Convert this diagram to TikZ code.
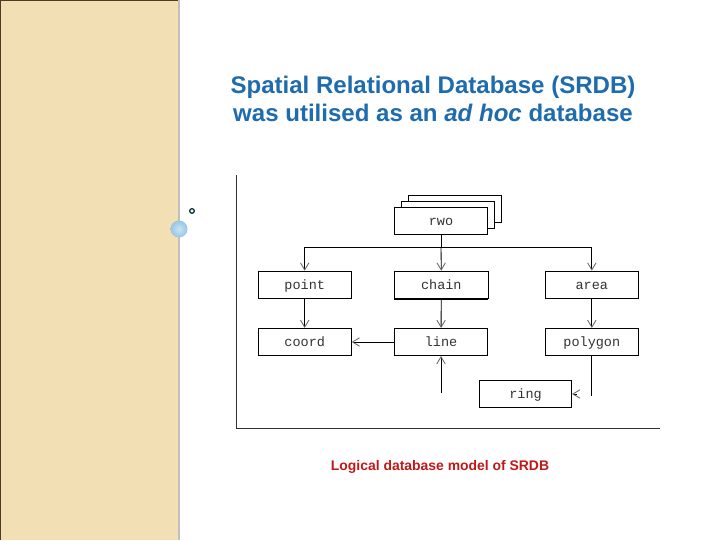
\documentclass[tikz,border=0pt]{standalone}
\usepackage{fontspec}
\setmainfont{Liberation Sans}
\newfontfamily\monofont{Liberation Mono}
\usetikzlibrary{arrows.meta}
\definecolor{panel}{HTML}{F2DFB3}
\definecolor{panelrim}{HTML}{4B3B28}
\definecolor{titleblue}{HTML}{1E6BAE}
\definecolor{capred}{HTML}{C01818}
\definecolor{bubble}{HTML}{C8E4F4}
\definecolor{bubbleedge}{HTML}{98C6E2}
\tikzset{
  entity/.style={draw, fill=white, line width=0.6pt, minimum width=2.33cm,
    minimum height=0.68cm, inner sep=0pt, text height=1.5ex, text depth=0.3ex,
    font=\monofont\fontsize{9.6}{10}\selectfont, text=black!80},
  arr/.style={line width=0.6pt, -{Straight Barb[length=5pt,width=6pt,color=black!60]}},
  link/.style={line width=0.6pt}
}
\begin{document}
\begin{tikzpicture}[x=0.025cm,y=-0.025cm]
 \useasboundingbox (0,0) rectangle (720,540);
 % side panel
 \fill[panel] (0,0) rectangle (178,540);
 \draw[panelrim,line width=0.8pt] (0.4,540) -- (0.4,0.4) -- (178,0.4);
 \draw[black!25,line width=1pt] (179,0) -- (179,540);
 \shade[inner color=bubble, outer color=bubbleedge] (179,229) circle (8.5);
 \draw[black!60!teal,line width=0.9pt] (192,211) circle (2.3);
 % title
 \node[text=titleblue,font=\bfseries\fontsize{17.1}{19.5}\selectfont,align=center] (title) at (433,99)
   {Spatial Relational Database (SRDB)\\ was utilised as an \textit{ad hoc} database};
 % axes
 \draw[black!80,line width=0.6pt] (236,175) -- (236,428) -- (660,428);
 % stacked rwo
 \node[entity,minimum width=2.34cm] (rwo3) at (455,209) {};
 \node[entity,minimum width=2.34cm] (rwo2) at (448,215) {};
 \node[entity,minimum width=2.34cm] (rwo) at (441,221) {rwo};
 % entities
 \node[entity] (point) at (304.7,284.7) {point};
 \node[entity] (chain) at (441.3,284.7) {chain};
 \node[entity] (area) at (591.8,284.7) {area};
 \node[entity] (coord) at (304.7,342) {coord};
 \node[entity] (line) at (441,342) {line};
 \node[entity] (polygon) at (591.8,342) {polygon};
 \node[entity,minimum width=2.31cm] (ring) at (525.5,394) {ring};
 \draw[line width=1.6pt] (chain.south west) -- (chain.south east);
 % connectors
 \coordinate (split) at (441,247);
 \draw[link] (rwo.south) -- (split);
 \draw[arr] (split) -| (point.north);
 \draw[arr] (split) -- (chain.north);
 \draw[arr] (split) -| (area.north);
 \draw[arr] (point) -- (coord);
 \draw[arr] (chain) -- (line);
 \draw[arr] (area) -- (polygon);
 \draw[arr] (line) -- (coord);
 \coordinate (stub) at (441,393);
 \draw[arr] (stub) -- (line.south);
 \coordinate (pend) at (591.8,396);
 \draw[link] (polygon.south) -- (pend);
 \coordinate (rtip) at (577,394);
 \draw[arr] (rtip) -- (ring.east);
 % caption
 \node[text=capred,font=\bfseries\fontsize{9.9}{11}\selectfont] (caption) at (440,467)
   {Logical database model of SRDB};
\end{tikzpicture}
\end{document}
